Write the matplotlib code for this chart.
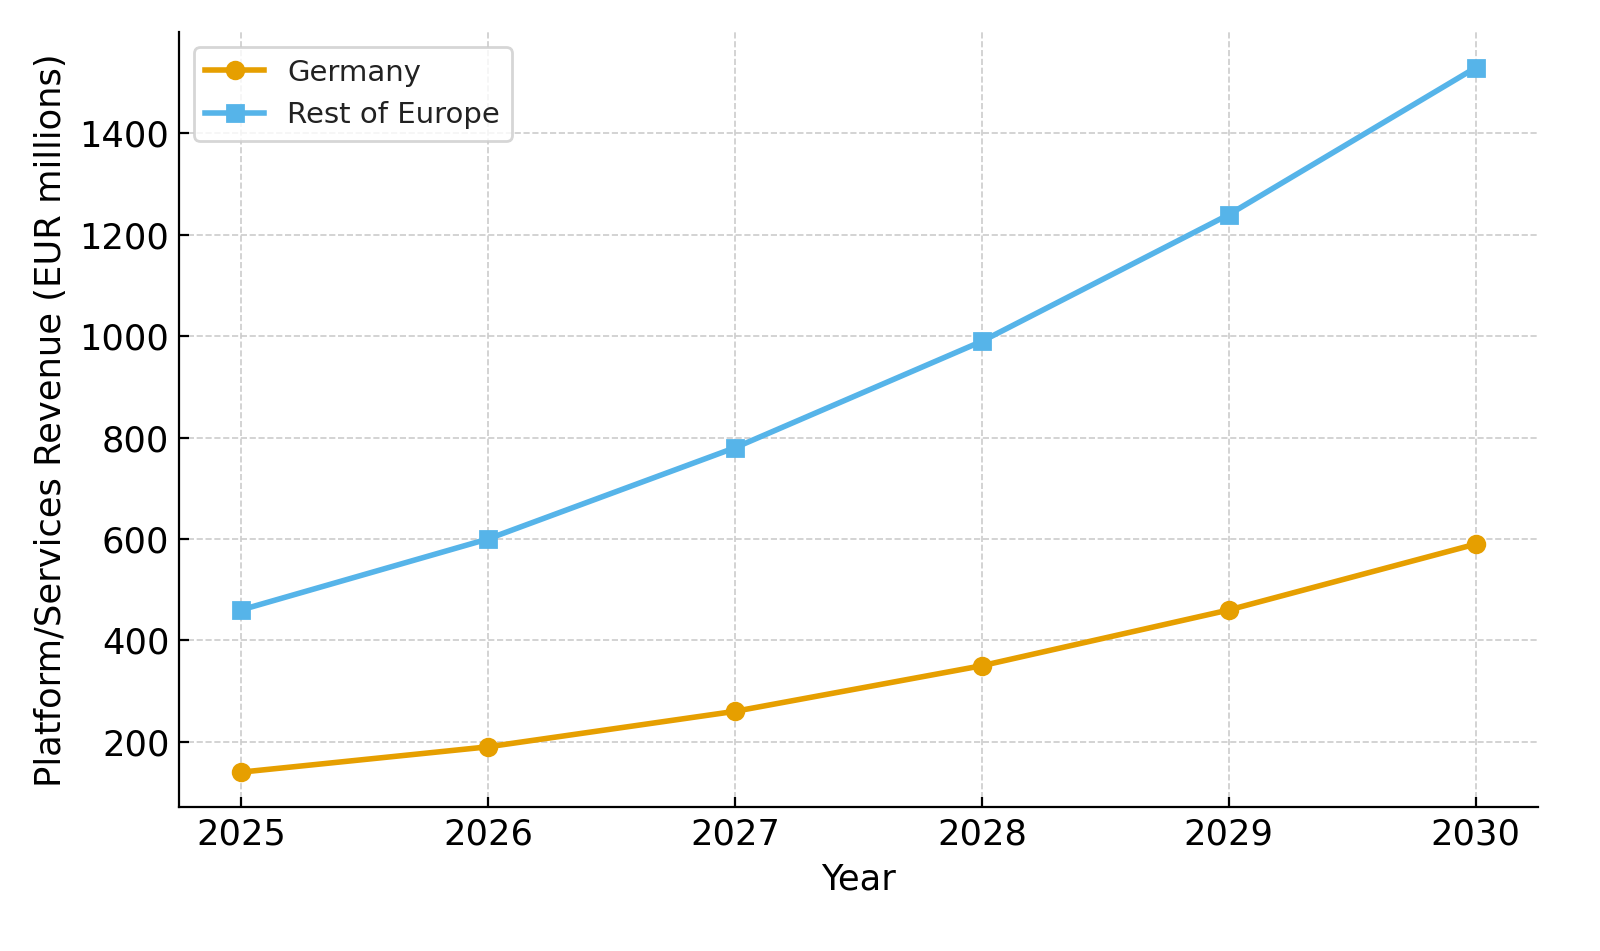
import matplotlib
matplotlib.use("Agg")
import matplotlib.pyplot as plt

years = [2025, 2026, 2027, 2028, 2029, 2030]
germany = [140, 190, 260, 350, 460, 590]
rest_of_europe = [460, 600, 780, 990, 1240, 1530]

fig, ax = plt.subplots(figsize=(8, 4.755), dpi=200)
ax.plot(years, germany, marker="o", color="#E69F00", linewidth=2, markersize=6, label="Germany")
ax.plot(years, rest_of_europe, marker="s", color="#56B4E9", linewidth=2, markersize=6, label="Rest of Europe")
ax.set_xlabel("Year", fontsize=12.7)
ax.set_ylabel("Platform/Services Revenue (EUR millions)", fontsize=12.7)
ax.tick_params(labelsize=12.7, direction="in")
ax.grid(True, linestyle="--", color="#cccccc", linewidth=0.6)
ax.spines["top"].set_visible(False)
ax.spines["right"].set_visible(False)
leg = ax.legend(fontsize=10.5, loc="upper left")
for t in leg.get_texts():
    t.set_color("#222222")
fig.subplots_adjust(left=0.112, right=0.961, top=0.966, bottom=0.151)
fig.savefig("out.png", dpi=200)
